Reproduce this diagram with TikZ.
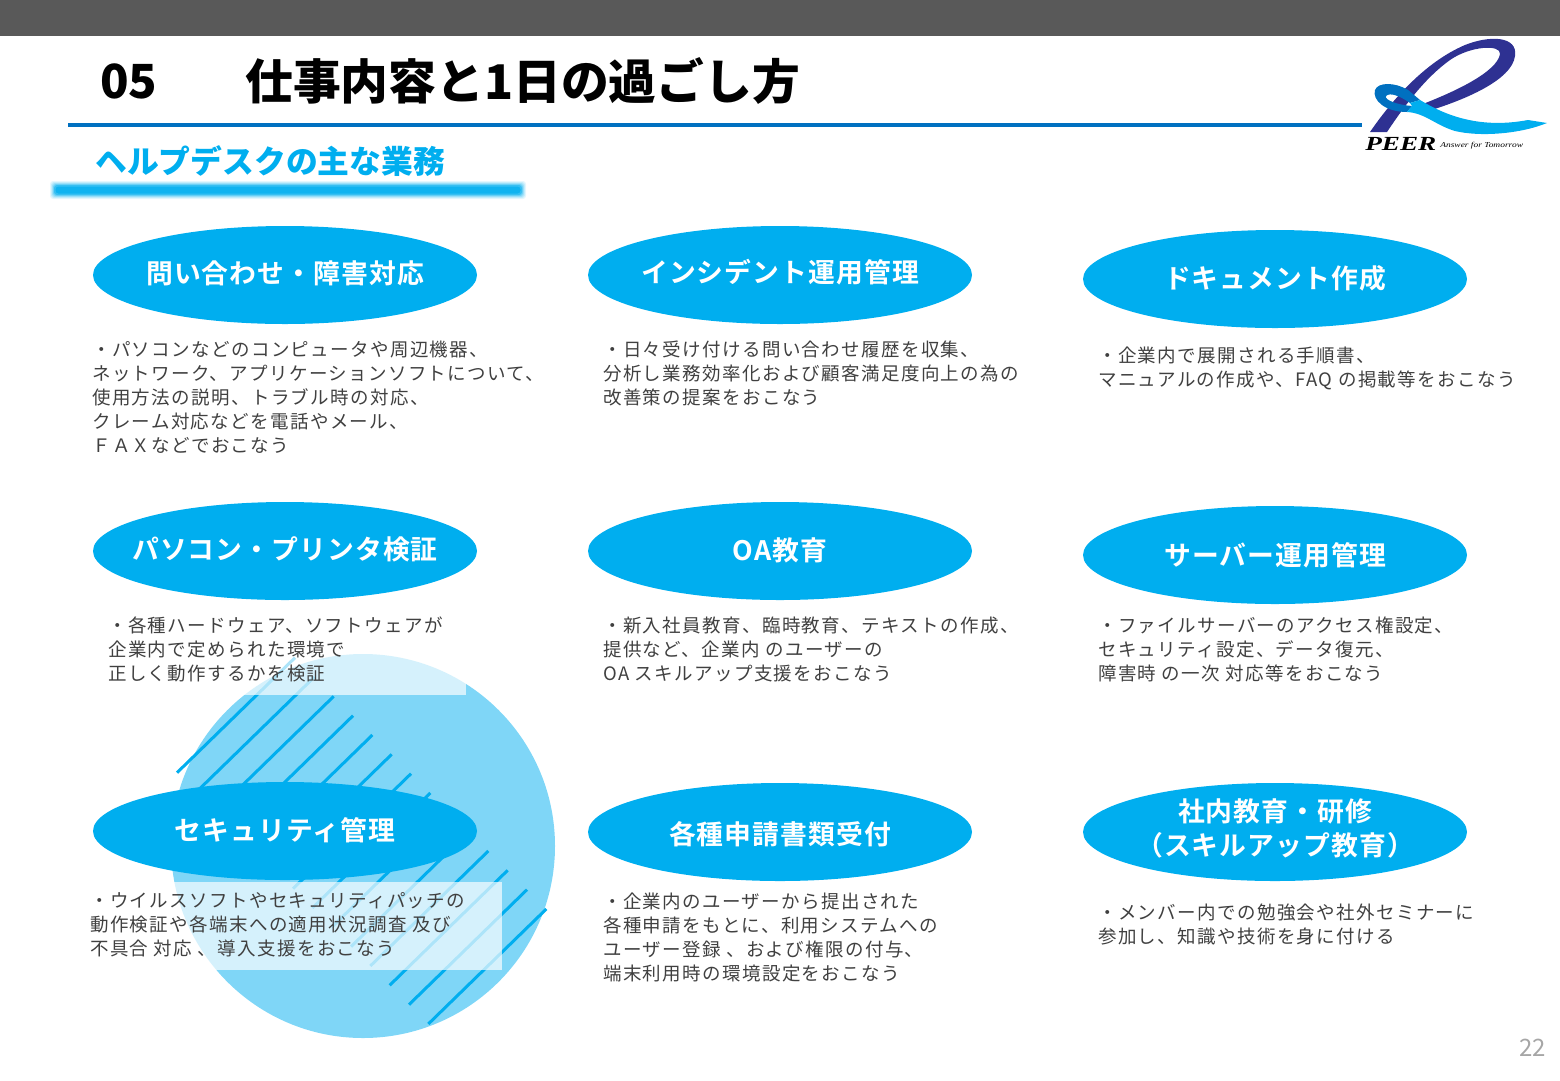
\documentclass[tikz,border=0pt]{standalone}
\usepackage{fontspec}
\setmainfont{Noto Sans CJK JP}
\newfontfamily\bodyfont[LetterSpace=7.4]{Noto Sans CJK JP}
\newfontfamily\capfont[LetterSpace=4,BoldFont={Noto Sans CJK JP Bold}]{Noto Sans CJK JP}
\newfontfamily\logofont{Liberation Serif}
\usetikzlibrary{shapes.geometric}
\definecolor{PeerBar}{HTML}{595959}
\definecolor{PeerLine}{HTML}{0070C0}
\definecolor{PeerSky}{HTML}{00AEEF}
\definecolor{PeerPale}{HTML}{7FD6F7}
\definecolor{PeerNavy}{HTML}{2E3192}
\definecolor{PeerText}{HTML}{404040}
\definecolor{PeerPage}{HTML}{A6A6A6}
\tikzset{
  taskoval/.style={ellipse,fill=PeerSky,minimum width=384pt,minimum height=98pt,inner sep=0pt},
  taskcap/.style={inner sep=0pt,text=white,align=center,font=\capfont\fontsize{26.8}{34}\selectfont\bfseries},
  taskbody/.style={anchor=north west,inner sep=0pt,align=left,text=PeerText,font=\bodyfont\fontsize{18.5}{24}\selectfont},
  paneveil/.style={fill=white,opacity=0.68}
}
\begin{document}
\begin{tikzpicture}[x=1pt,y=-1pt]
  \useasboundingbox (0,0) rectangle (1560,1080);
  \fill[PeerBar] (0,0) rectangle (1560,36);
  \fill[PeerLine] (68,123) rectangle (1362,127);
  \node[anchor=west,inner sep=0pt,font=\fontsize{47}{50}\selectfont\bfseries] (secno) at (100,81) {05};
  \node[anchor=west,inner sep=0pt,font=\fontsize{47.8}{50}\selectfont\bfseries] (sectitle) at (245,81) {仕事内容と1日の過ごし方};
  \node[anchor=west,inner sep=0pt,text=PeerSky,font=\fontsize{31.8}{34}\selectfont\bfseries] (subtitle) at (95,161) {ヘルプデスクの主な業務};
  % soft bar under the heading
  \foreach \w/\o in {8/0.1,6/0.14,4/0.2,2/0.3,0/0.5,-3/0.7}{
    \fill[PeerSky,opacity=\o,rounded corners=3pt] (54-\w/2,185-\w/2) rectangle (522+\w/2,195+\w/2);
  }
  % backdrop
  \fill[PeerPale] (363,846) circle (192);
  \foreach \i in {0,...,13}{
    \draw[PeerSky,line width=3pt] ({177+19.33*\i},{772.7+19.33*\i}) -- ++(118,-115);
  }
  \fill[paneveil] (105,612) rectangle (466,695);
  \fill[paneveil] (88,882) rectangle (502,970);
  % logo
  \fill[PeerNavy] (1370,132) .. controls (1392,100) and (1425,62) .. (1465,45) .. controls (1490,35) and (1518,36) .. (1515,56) .. controls (1512,80) and (1465,100) .. (1425,112) -- (1415,107) .. controls (1455,92) and (1497,72) .. (1500,54) .. controls (1501,44) and (1470,46) .. (1450,60) .. controls (1425,78) and (1405,105) .. (1387,132) -- cycle;
  \fill[PeerLine] (1407,112) .. controls (1385,112) and (1372,100) .. (1375,90) .. controls (1378,82) and (1395,82) .. (1408,90) -- (1420,100) -- (1410,103) .. controls (1400,96) and (1390,92) .. (1386,96) .. controls (1384,100) and (1398,105) .. (1412,106) -- cycle;
  \fill[PeerSky] (1547,123) .. controls (1520,134) and (1480,137) .. (1455,131) .. controls (1435,125) and (1425,113) .. (1407,112) -- (1412,106) -- (1410,103) -- (1420,100) .. controls (1440,112) and (1475,130) .. (1528,120) -- cycle;
  \node[anchor=west,inner sep=0pt,xscale=1.36,font=\logofont\fontsize{20}{20}\selectfont\bfseries\itshape] (peername) at (1365,144) {PEER};
  \node[anchor=west,inner sep=0pt,xscale=1.26,font=\logofont\fontsize{7.5}{8}\selectfont\itshape] (peertag) at (1440,146) {Answer for Tomorrow};
  % task ovals
  \foreach \n/\x/\y/\d/\t in {ask/285/275/-2/問い合わせ・障害対応,inc/780/275/-3/インシデント運用管理,doc/1275/279/-1/ドキュメント作成,
    pc/285/551/-2/パソコン・プリンタ検証,oa/780/551/-1/OA教育,srv/1275/555/0/サーバー運用管理,
    sec/285/831/-1/セキュリティ管理,app/780/832/2/各種申請書類受付,edu/1275/832/-4/{社内教育・研修\\（スキルアップ教育）}}{
    \node[taskoval] (\n) at (\x,\y) {};
    \node[taskcap] (\n cap) at (\x,\y+\d) {\t};
  }
  % task descriptions
  \foreach \n/\x/\y/\t in {
    askt/92/341/{・パソコンなどのコンピュータや周辺機器、\\ネットワーク、アプリケーションソフトについて、\\使用方法の説明、トラブル時の対応、\\クレーム対応などを電話やメール、\\ＦＡＸなどでおこなう},
    inct/603/341/{・日々受け付ける問い合わせ履歴を収集、\\分析し業務効率化および顧客満足度向上の為の\\改善策の提案をおこなう},
    doct/1098/347/{・企業内で展開される手順書、\\マニュアルの作成や、FAQ の掲載等をおこなう},
    pct/108/617/{・各種ハードウェア、ソフトウェアが\\企業内で定められた環境で\\正しく動作するかを検証},
    oat/603/617/{・新入社員教育、臨時教育、テキストの作成、\\提供など、企業内 のユーザーの\\OA スキルアップ支援をおこなう},
    srvt/1098/617/{・ファイルサーバーのアクセス権設定、\\セキュリティ設定、データ復元、\\障害時 の一次 対応等をおこなう},
    sect/90/892/{・ウイルスソフトやセキュリティパッチの\\動作検証や各端末への適用状況調査 及び\\不具合 対応 、導入支援をおこなう},
    appt/603/893/{・企業内のユーザーから提出された\\各種申請をもとに、利用システムへの\\ユーザー登録 、および権限の付与、\\端末利用時の環境設定をおこなう},
    edut/1098/904/{・メンバー内での勉強会や社外セミナーに\\参加し、知識や技術を身に付ける}}{
    \node[taskbody] (\n) at (\x,\y) {\t};
  }
  \node[anchor=east,inner sep=0pt,text=PeerPage,font=\fontsize{24}{26}\selectfont] (pageno) at (1546,1048) {22};
\end{tikzpicture}
\end{document}
